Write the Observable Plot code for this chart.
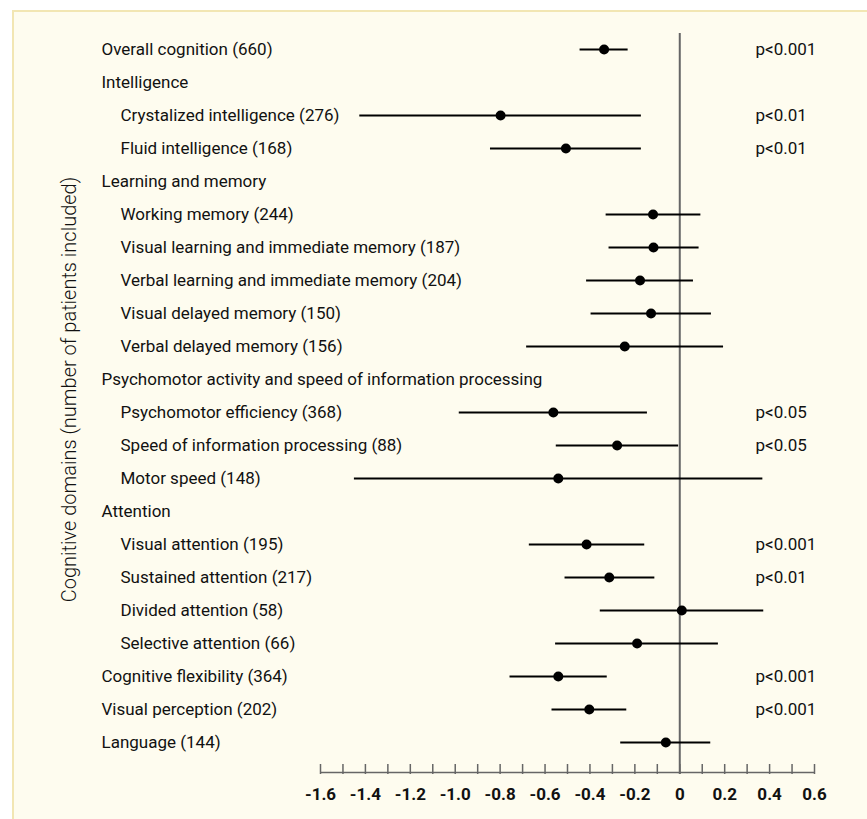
<!DOCTYPE html>
<html><head><meta charset="utf-8">
<script src="https://cdn.jsdelivr.net/npm/d3@7"></script>
<script src="https://cdn.jsdelivr.net/npm/@observablehq/plot@0.6"></script>
<style>
html,body{margin:0;padding:0;background:#fff;overflow:hidden}
#box{position:absolute;left:12px;top:10px;width:855px;height:809px;background:#fefcef;border-left:2px solid #f2e6b3;border-top:2px solid #f2e6b3;box-sizing:border-box}
#chart{position:absolute;left:0;top:0}
</style></head><body><div id="box"></div><div id="chart"></div>
<script>
const domains = [
  "Overall cognition (660)",
  "Intelligence",
  "Crystalized intelligence (276)",
  "Fluid intelligence (168)",
  "Learning and memory",
  "Working memory (244)",
  "Visual learning and immediate memory (187)",
  "Verbal learning and immediate memory (204)",
  "Visual delayed memory (150)",
  "Verbal delayed memory (156)",
  "Psychomotor activity and speed of information processing",
  "Psychomotor efficiency (368)",
  "Speed of information processing (88)",
  "Motor speed (148)",
  "Attention",
  "Visual attention (195)",
  "Sustained attention (217)",
  "Divided attention (58)",
  "Selective attention (66)",
  "Cognitive flexibility (364)",
  "Visual perception (202)",
  "Language (144)"
];
const levels = [0,0,1,1,0,1,1,1,1,1,0,1,1,1,0,1,1,1,1,0,0,0];
const estimates = [-0.337,null,-0.798,-0.507,null,-0.119,-0.117,-0.177,-0.128,-0.245,null,-0.563,-0.279,-0.541,null,-0.415,-0.314,0.009,-0.190,-0.541,-0.403,-0.062];
const lower = [-0.444,null,-1.425,-0.843,null,-0.328,-0.315,-0.415,-0.395,-0.682,null,-0.982,-0.550,-1.449,null,-0.670,-0.511,-0.354,-0.553,-0.756,-0.569,-0.263];
const upper = [-0.230,null,-0.171,-0.171,null,0.094,0.086,0.061,0.141,0.195,null,-0.144,-0.005,0.370,null,-0.156,-0.111,0.374,0.172,-0.323,-0.236,0.138];
const pValues = ["p<0.001","","p<0.01","p<0.01","","","","","","","","p<0.05","p<0.05","","","p<0.001","p<0.01","","","p<0.001","p<0.001",""];
const tickValues = d3.range(-16, 7).map(d => d / 10);
const tickLabels = d3.range(-8, 4).map(d => d / 5);
const yTitle = "Cognitive domains (number of patients included)";

const rows = domains.map((name, i) => ({name, level: levels[i], est: estimates[i], lo: lower[i], hi: upper[i], p: pValues[i]}));
const studies = rows.filter(d => d.est != null);
const lastRow = domains[domains.length - 1];

const chart = Plot.plot({
  width: 867,
  height: 819,
  marginLeft: 320,
  marginRight: 53,
  marginTop: 16,
  marginBottom: 45,
  style: {background: "transparent", fontFamily: "Roboto, sans-serif", fontSize: "17px", color: "#111"},
  x: {domain: [-1.6, 0.6], axis: null},
  y: {type: "point", domain: domains, padding: 0.9025, axis: null},
  marks: [
    Plot.ruleX([0], {stroke: "#666", strokeWidth: 2, insetTop: 17}),
    Plot.ruleY([lastRow], {dy: 30, stroke: "#666", strokeWidth: 1.5}),
    Plot.ruleX(tickValues, {stroke: "#666", strokeWidth: 1.5, insetTop: 748}),
    Plot.ruleY(studies, {y: "name", x1: "lo", x2: "hi", stroke: "#000", strokeWidth: 2}),
    Plot.dot(studies, {x: "est", y: "name", r: 5, fill: "#000", stroke: "none"}),
    Plot.text(rows.filter(d => d.level === 0), {y: "name", text: "name", frameAnchor: "left", dx: -219, textAnchor: "start"}),
    Plot.text(rows.filter(d => d.level === 1), {y: "name", text: "name", frameAnchor: "left", dx: -200, textAnchor: "start"}),
    Plot.text(rows.filter(d => d.p), {y: "name", text: "p", frameAnchor: "right", dx: -59, textAnchor: "start"}),
    Plot.text(tickLabels, {x: d => d, y: () => lastRow, dy: 52, text: d => d === 0 ? "0" : d.toFixed(1), fontWeight: "bold", fontSize: 17}),
    Plot.text([yTitle], {y: () => domains[10], frameAnchor: "left", textAnchor: "middle", dx: -251, dy: 10, rotate: -90, fontSize: 20, fontWeight: 300, text: d => d})
  ]
});
document.getElementById("chart").appendChild(chart);
</script>
</body></html>
